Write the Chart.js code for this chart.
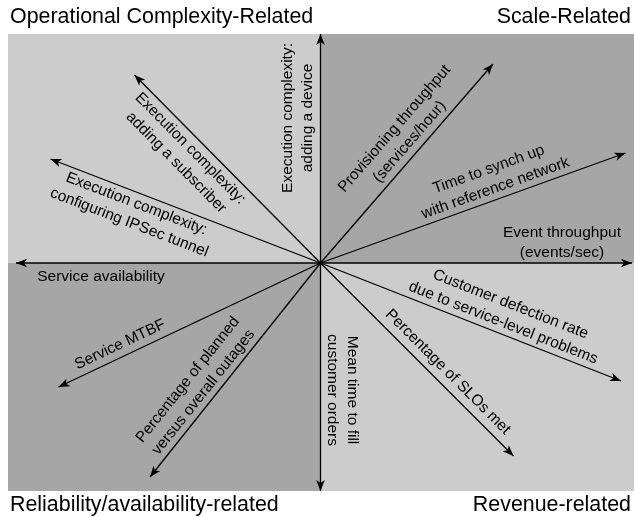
<!DOCTYPE html>
<html>
<head>
<meta charset="utf-8">
<script src="https://cdn.jsdelivr.net/npm/chart.js@4/dist/chart.umd.min.js"></script>
<style>
  html, body { margin: 0; padding: 0; background: #ffffff; }
  #wrap { width: 634px; height: 517px; }
</style>
</head>
<body>
<div id="wrap"><canvas id="c" width="634" height="517"></canvas></div>
<script>
// ---- data ----
const quadrantTitles = ["Operational Complexity-Related", "Scale-Related", "Reliability/availability-related", "Revenue-related"];
const metricNames = [
  ["Execution complexity:", "adding a device"],
  ["Execution complexity:", "adding a subscriber"],
  ["Execution complexity:", "configuring IPSec tunnel"],
  ["Service availability"],
  ["Service MTBF"],
  ["Percentage of planned", "versus overall outages"],
  ["Mean time to fill", "customer orders"],
  ["Percentage of SLOs met"],
  ["Customer defection rate", "due to service-level problems"],
  ["Event throughput", "(events/sec)"],
  ["Time to synch up", "with reference network"],
  ["Provisioning throughput", "(services/hour)"]
];
const arrowX = [0, -186, -270, -304.5, -262, -170.5, 0, 193, 300.5, 311.5, 305, 172.5];
const arrowY = [229, 188, 104, 0, -124, -214, -228, -193, -118, 0, 110, 199];

// ---- layout (label placement along / across each arrow, in px) ----
const labelAlong = [145, 173, 193, 219.5, 216, 174, 127, 167, 192, 241.5, 190, 150];
const labelAcross = [-23, 22, 21, 14, -12, -21, -21.5, -13, -21, -20, -21, -22];

const LIGHT = "#cccccc", DARK = "#a6a6a6";
const FONT = "'Liberation Sans', Arial, Helvetica, sans-serif";

const datasets = arrowX.map((x, i) => ({
  label: metricNames[i].join(" "),
  data: [{x: 0, y: 0}, {x: x, y: arrowY[i]}],
  showLine: true,
  borderColor: "#000000",
  borderWidth: 1.3,
  pointRadius: 0,
  fill: false
}));

const quadrantPlugin = {
  id: "quadrants",
  beforeDatasetsDraw(chart) {
    const {ctx, chartArea: a, scales} = chart;
    const x0 = scales.x.getPixelForValue(0), y0 = scales.y.getPixelForValue(0);
    ctx.save();
    ctx.fillStyle = LIGHT; ctx.fillRect(a.left, a.top, x0 - a.left, y0 - a.top);
    ctx.fillStyle = DARK;  ctx.fillRect(x0, a.top, a.right - x0, y0 - a.top);
    ctx.fillStyle = DARK;  ctx.fillRect(a.left, y0, x0 - a.left, a.bottom - y0);
    ctx.fillStyle = LIGHT; ctx.fillRect(x0, y0, a.right - x0, a.bottom - y0);
    ctx.restore();
  }
};

const arrowPlugin = {
  id: "arrows",
  afterDatasetsDraw(chart) {
    const {ctx, scales} = chart;
    const cx = scales.x.getPixelForValue(0), cy = scales.y.getPixelForValue(0);
    ctx.save();
    chart.data.datasets.forEach((ds, i) => {
      const p = ds.data[1];
      const tx = scales.x.getPixelForValue(p.x), ty = scales.y.getPixelForValue(p.y);
      const ang = Math.atan2(ty - cy, tx - cx);
      // arrowhead
      ctx.save();
      ctx.translate(tx, ty);
      ctx.rotate(ang);
      ctx.fillStyle = "#000";
      ctx.beginPath();
      ctx.moveTo(0, 0);
      ctx.lineTo(-11, -4.3);
      ctx.lineTo(-8, 0);
      ctx.lineTo(-11, 4.3);
      ctx.closePath();
      ctx.fill();
      ctx.restore();
      // label
      let rot = ang;
      if (rot > Math.PI / 2 + 1e-6) rot -= Math.PI;
      if (rot < -Math.PI / 2 - 1e-6) rot += Math.PI;
      const ux = Math.cos(ang), uy = Math.sin(ang);
      const nx = -Math.sin(rot), ny = Math.cos(rot);
      const d = labelAlong[i], off = labelAcross[i];
      const px = cx + d * ux + off * nx, py = cy + d * uy + off * ny;
      const lines = metricNames[i];
      const lh = 20;
      ctx.save();
      ctx.translate(px, py);
      ctx.rotate(rot);
      ctx.fillStyle = "#000";
      ctx.font = "15.5px " + FONT;
      ctx.textAlign = "center";
      ctx.textBaseline = "middle";
      lines.forEach((t, k) => {
        ctx.fillText(t, 0, (k - (lines.length - 1) / 2) * lh);
      });
      ctx.restore();
    });
    // quadrant titles
    ctx.fillStyle = "#000";
    ctx.font = "21.4px " + FONT;
    ctx.textBaseline = "alphabetic";
    ctx.textAlign = "left";
    ctx.fillText(quadrantTitles[0], 10, 23);
    ctx.fillText(quadrantTitles[2], 10, 511);
    ctx.textAlign = "right";
    ctx.fillText(quadrantTitles[1], 631, 23);
    ctx.fillText(quadrantTitles[3], 631, 511);
    ctx.restore();
  }
};

new Chart(document.getElementById("c"), {
  type: "scatter",
  data: { datasets },
  options: {
    responsive: false,
    animation: false,
    layout: { padding: { left: 8, top: 34, right: 0, bottom: 26 } },
    plugins: { legend: { display: false }, tooltip: { enabled: false }, title: { display: false } },
    scales: {
      x: { type: "linear", min: -312.5, max: 313.5, display: false },
      y: { type: "linear", min: -228, max: 229, display: false }
    },
    elements: { line: { tension: 0 } }
  },
  plugins: [quadrantPlugin, arrowPlugin]
});
</script>
</body>
</html>
